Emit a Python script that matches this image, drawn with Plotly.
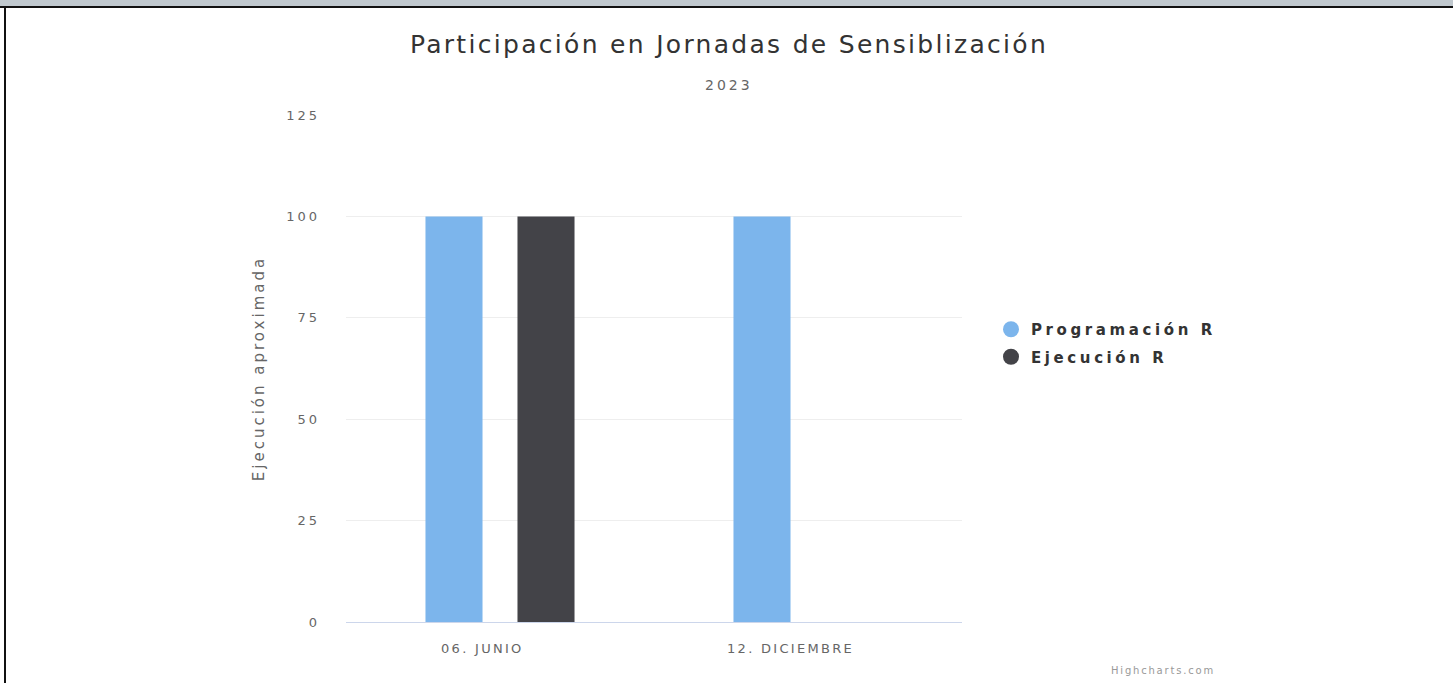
import plotly.graph_objects as go

categorias = ["06. JUNIO", "12. DICIEMBRE"]
programacion = [100, 100]
ejecucion = [100, 0]
y_ticks = [0, 25, 50, 75, 100, 125]

series = [
    ("Programación R", programacion, "#7cb5ec"),
    ("Ejecución R", ejecucion, "#434348"),
]


def spaced(text, s):
    return f'<span style="letter-spacing:{s}px">{text}</span>'


fig = go.Figure()
for i, (nombre, valores, color) in enumerate(series):
    fig.add_trace(go.Bar(x=categorias, y=valores, name=nombre,
                         marker=dict(color=color, line=dict(width=0)),
                         legendgroup=f"g{i}", showlegend=False))
    # legend entry with round symbol like highcharts
    fig.add_trace(go.Scatter(x=[None], y=[None], mode="markers",
                             name=spaced(nombre, 3.6), legendgroup=f"g{i}",
                             marker=dict(color=color, size=16, symbol="circle")))

plot_l, plot_r, plot_t, plot_b = 346, 491, 115, 61
W, H = 1453, 683
plot_w = W - plot_l - plot_r
plot_h = H - plot_t - plot_b
bottom = H - plot_b


def px_x(px):
    return (px - plot_l) / plot_w


def px_y(py):
    return (bottom - py) / plot_h


fig.update_layout(
    width=W, height=H,
    paper_bgcolor="white", plot_bgcolor="white",
    barmode="group", bargap=0.4026, bargroupgap=0.38,
    margin=dict(l=plot_l, r=plot_r, t=plot_t, b=plot_b),
    font=dict(family="DejaVu Sans", color="#666666"),
    title=dict(text=spaced("Participación en Jornadas de Sensiblización", 2.3),
               x=729 / W, xref="container", xanchor="center", y=1 - 44 / H, yanchor="middle",
               font=dict(size=25, color="#333333")),
    xaxis=dict(showgrid=False, showticklabels=False,
               showline=True, linecolor="#ccd6eb", linewidth=1, ticks=""),
    yaxis=dict(range=[0, 125], showgrid=True, gridcolor="#eeeeee",
               tickvals=y_ticks, ticktext=[spaced(v, 3) for v in y_ticks],
               zeroline=False, tickfont=dict(size=13, color="#666666"),
               ticklabelstandoff=25,
               title=dict(text=spaced("Ejecución aproximada", 3), standoff=17,
                          font=dict(size=15, color="#666666"))),
    legend=dict(x=px_x(991), y=px_y(343), xanchor="left", yanchor="middle",
                font=dict(size=15, color="#333333", family="DejaVu Sans", weight="bold"),
                tracegroupgap=5, traceorder="grouped",
                bgcolor="rgba(0,0,0,0)"),
    showlegend=True,
)

# category labels (highcharts draws them slightly left of the category centre)
for c in categorias:
    fig.add_annotation(text=spaced(c, 2.3), x=c, y=0, xref="x", yref="y",
                       xshift=-18, yshift=-26, yanchor="middle", showarrow=False,
                       font=dict(size=13, color="#666666"))

fig.add_annotation(text=spaced("2023", 3), x=px_x(729), xref="paper", y=px_y(85), yref="paper",
                   xanchor="center", yanchor="middle", showarrow=False,
                   font=dict(size=14, color="#666666"))
fig.add_annotation(text=spaced("Highcharts.com", 1.8), x=px_x(1163), y=px_y(670),
                   xref="paper", yref="paper", xanchor="center", yanchor="middle",
                   showarrow=False, font=dict(size=10, color="#999999"))

# screenshot frame: grey strip on top and dark border
fig.add_shape(type="rect", xref="paper", yref="paper",
              x0=px_x(0), x1=px_x(W), y0=px_y(6), y1=px_y(-1),
              fillcolor="#c0c8ce", line=dict(width=0), layer="above")
fig.add_shape(type="line", xref="paper", yref="paper",
              x0=px_x(0), x1=px_x(W), y0=px_y(7), y1=px_y(7),
              line=dict(color="#111111", width=2))
fig.add_shape(type="line", xref="paper", yref="paper",
              x0=px_x(5), x1=px_x(5), y0=px_y(7), y1=px_y(H + 2),
              line=dict(color="#111111", width=2))

fig.write_html("out.html", config={"displayModeBar": False},
               post_script="document.body.style.margin='0';")
